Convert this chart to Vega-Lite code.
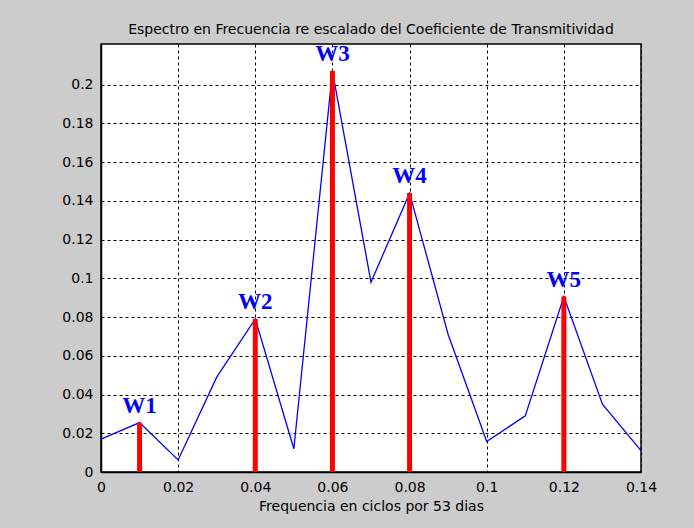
{
  "$schema": "https://vega.github.io/schema/vega-lite/v6.json",
  "width": 540,
  "height": 428,
  "autosize": {"type": "none"},
  "padding": {"left": 101, "top": 44, "right": 53, "bottom": 56},
  "background": "#cccccc",
  "title": {
    "text": "Espectro en Frecuencia re escalado del Coeficiente de Transmitividad",
    "font": "DejaVu Sans",
    "fontSize": 14,
    "fontWeight": "normal",
    "color": "#000000",
    "anchor": "middle",
    "offset": 6
  },
  "config": {
    "view": {"fill": "#ffffff", "stroke": "#000000", "strokeWidth": 1.5},
    "axis": {
      "domainColor": "#000000",
      "domainWidth": 1.5,
      "grid": true,
      "gridColor": "#000000",
      "gridOpacity": 1,
      "gridWidth": 1,
      "gridDash": [3, 3],
      "ticks": false,
      "labelFont": "DejaVu Sans",
      "labelFontSize": 14,
      "labelColor": "#000000",
      "titleFont": "DejaVu Sans",
      "titleFontSize": 14,
      "titleFontWeight": "normal",
      "titleColor": "#000000"
    }
  },
  "datasets": {
    "spectrum": [
      {"freq": 0.00, "amp": 0.0170},
      {"freq": 0.01, "amp": 0.0255},
      {"freq": 0.02, "amp": 0.0062},
      {"freq": 0.03, "amp": 0.0490},
      {"freq": 0.04, "amp": 0.0790},
      {"freq": 0.05, "amp": 0.0120},
      {"freq": 0.06, "amp": 0.2070},
      {"freq": 0.07, "amp": 0.0980},
      {"freq": 0.08, "amp": 0.1440},
      {"freq": 0.09, "amp": 0.0710},
      {"freq": 0.10, "amp": 0.0157},
      {"freq": 0.11, "amp": 0.0290},
      {"freq": 0.12, "amp": 0.0906},
      {"freq": 0.13, "amp": 0.0350},
      {"freq": 0.14, "amp": 0.0110}
    ],
    "peaks": [
      {"freq": 0.01, "amp": 0.0255, "name": "W1"},
      {"freq": 0.04, "amp": 0.0790, "name": "W2"},
      {"freq": 0.06, "amp": 0.2070, "name": "W3"},
      {"freq": 0.08, "amp": 0.1440, "name": "W4"},
      {"freq": 0.12, "amp": 0.0906, "name": "W5"}
    ]
  },
  "encoding": {
    "x": {
      "field": "freq",
      "type": "quantitative",
      "scale": {"domain": [0, 0.14], "nice": false, "zero": false},
      "axis": {
        "title": "Frequencia en ciclos por 53 dias",
        "values": [0, 0.02, 0.04, 0.06, 0.08, 0.1, 0.12, 0.14],
        "format": "~g",
        "labelPadding": 8,
        "titlePadding": 5,
        "labelFlush": false
      }
    },
    "y": {
      "field": "amp",
      "type": "quantitative",
      "scale": {"domain": [0, 0.221], "nice": false},
      "axis": {
        "title": null,
        "values": [0, 0.02, 0.04, 0.06, 0.08, 0.1, 0.12, 0.14, 0.16, 0.18, 0.2],
        "format": "~g",
        "labelPadding": 8
      }
    }
  },
  "layer": [
    {
      "data": {"name": "spectrum"},
      "mark": {"type": "line", "color": "#0000ff", "strokeWidth": 1.3}
    },
    {
      "data": {"name": "peaks"},
      "mark": {"type": "rule", "color": "#ff0000", "strokeWidth": 5},
      "encoding": {"y2": {"datum": 0}}
    },
    {
      "data": {"name": "peaks"},
      "mark": {
        "type": "text",
        "font": "Liberation Serif",
        "fontSize": 23,
        "fontWeight": "bold",
        "color": "#0000ff",
        "align": "center",
        "baseline": "bottom",
        "dy": -5
      },
      "encoding": {"text": {"field": "name"}}
    }
  ]
}
